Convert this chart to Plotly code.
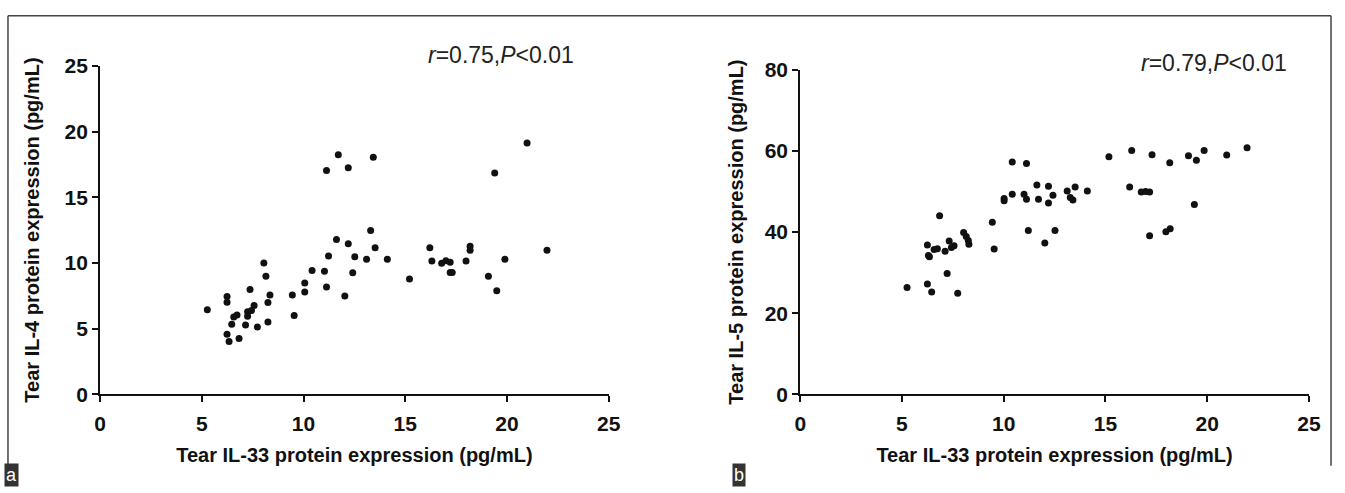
import plotly.graph_objects as go

# Panel a: IL-33 vs IL-4
il33_a = [5.27, 6.24, 6.24, 6.24, 6.34, 6.47, 6.57, 6.73, 6.83, 7.15, 7.25, 7.25, 7.37, 7.44,
          7.57, 7.73, 8.05, 8.15, 8.25, 8.25, 8.35, 9.45, 9.54, 10.06, 10.06, 10.42, 11.03, 11.13,
          11.23, 11.13, 11.71, 11.62, 12.03, 12.2, 12.2, 12.42, 12.52, 13.1, 13.3, 13.43, 13.52,
          14.12, 15.21, 16.21, 16.31, 16.79, 17.0, 17.21, 17.21, 17.31, 17.99, 18.19, 18.19,
          19.09, 19.40, 19.5, 19.9, 20.99, 21.97]
il4_a = [6.43, 7.44, 7.01, 4.57, 4.01, 5.34, 5.89, 6.04, 4.25, 5.27, 5.94, 6.28, 7.97, 6.38,
         6.76, 5.12, 10.0, 8.99, 5.51, 6.98, 7.56, 7.56, 5.99, 8.48, 7.78, 9.42, 9.37, 8.16,
         10.53, 17.03, 18.24, 11.79, 7.49, 17.25, 11.45, 9.25, 10.46, 10.27, 12.46, 18.04, 11.16,
         10.27, 8.77, 11.16, 10.14, 9.98, 10.17, 10.05, 9.28, 9.28, 10.14, 11.26, 10.97,
         8.99, 16.84, 7.88, 10.27, 19.13, 10.97]

# Panel b: IL-33 vs IL-5
il33_b = [5.25, 6.25, 6.46, 7.74, 7.22, 6.85, 6.25, 6.3, 6.35, 6.58, 6.74, 7.12, 7.32, 7.43,
          7.56, 8.03, 8.16, 8.26, 8.29, 9.44, 9.53, 10.02, 10.02, 10.42, 10.42, 11.12, 11.0,
          11.12, 11.21, 11.63, 11.71, 12.02, 12.2, 12.2, 12.42, 12.52, 13.12, 13.51, 13.27,
          13.4, 14.11, 16.19, 16.76, 16.97, 17.17, 19.37, 17.17, 17.97, 18.18, 15.17, 16.29,
          17.29, 18.16, 19.08, 19.47, 19.85, 20.96, 21.96]
il5_b = [26.35, 27.2, 25.2, 24.9, 29.8, 44.0, 36.8, 34.2, 33.9, 35.7, 35.9, 35.3, 37.8, 36.2,
         36.6, 39.9, 38.9, 37.9, 37.0, 42.4, 35.8, 48.3, 47.7, 49.3, 57.3, 56.9, 49.3,
         48.1, 40.4, 51.6, 48.1, 37.3, 51.3, 47.2, 49.1, 40.4, 50.1, 51.1, 48.5,
         47.9, 50.1, 51.1, 49.9, 50.0, 49.9, 46.8, 39.1, 40.1, 40.8, 58.6, 60.1,
         59.1, 57.1, 58.8, 57.7, 60.1, 59.0, 60.8]

x_ticks = [0, 5, 10, 15, 20, 25]
y_ticks_a = [0, 5, 10, 15, 20, 25]
y_ticks_b = [0, 20, 40, 60, 80]

x_title = "Tear IL-33 protein expression (pg/mL)"
y_title_a = "Tear IL-4 protein expression (pg/mL)"
y_title_b = "Tear IL-5 protein expression (pg/mL)"
stat_a = "<i>r</i>=0.75,<i>P</i>&lt;0.01"
stat_b = "<i>r</i>=0.79,<i>P</i>&lt;0.01"

W, H = 1345, 493
FONT = "Liberation Sans, Arial, sans-serif"

fig = go.Figure()
mk = dict(color="#111111", size=7)
fig.add_trace(go.Scatter(x=il33_a, y=il4_a, mode="markers", marker=mk, xaxis="x", yaxis="y",
                         showlegend=False, cliponaxis=False))
fig.add_trace(go.Scatter(x=il33_b, y=il5_b, mode="markers", marker=mk, xaxis="x2", yaxis="y2",
                         showlegend=False, cliponaxis=False))

def px_x(p):
    return p / W

def px_y(p):
    return 1 - p / H

tickfont = dict(family=FONT, size=21, color="#111111", weight="bold")
titlefont = dict(family=FONT, size=20, color="#111111", weight="bold")

def axis_common():
    return dict(showline=True, linecolor="#111111", linewidth=2, ticks="outside", ticklen=6,
                tickwidth=2, tickcolor="#111111", showgrid=False, zeroline=False,
                tickfont=tickfont, fixedrange=True)

fig.update_layout(
    width=W, height=H, margin=dict(l=0, r=0, t=0, b=0),
    paper_bgcolor="white", plot_bgcolor="white",
    xaxis=dict(domain=[px_x(95.4), px_x(610.8)], range=[0, 25], tickvals=x_ticks,
               anchor="y", ticklabelstandoff=4,
               title=dict(text=x_title, font=titlefont, standoff=14), **axis_common()),
    yaxis=dict(domain=[px_y(401), px_y(56.5)], range=[0, 25], tickvals=y_ticks_a,
               anchor="x", title=dict(text=y_title_a, font=titlefont, standoff=20), **axis_common()),
    xaxis2=dict(domain=[px_x(805), px_x(1320.6)], range=[0, 25], tickvals=x_ticks,
                anchor="y2", ticklabelstandoff=4,
                title=dict(text=x_title, font=titlefont, standoff=14), **axis_common()),
    yaxis2=dict(domain=[px_y(401), px_y(60.7)], range=[0, 80], tickvals=y_ticks_b,
                anchor="x2", title=dict(text=y_title_b, font=titlefont, standoff=16), **axis_common()),
)

# statistics annotations
fig.add_annotation(text=stat_a, x=px_x(502), y=px_y(45), xref="paper", yref="paper",
                   xanchor="center", yanchor="middle", showarrow=False,
                   font=dict(family=FONT, size=23, color="#222222"))
fig.add_annotation(text=stat_b, x=px_x(1224), y=px_y(53), xref="paper", yref="paper",
                   xanchor="center", yanchor="middle", showarrow=False,
                   font=dict(family=FONT, size=23, color="#222222"))

# panel labels
for lab, xc in [("a", 6), ("b", 743)]:
    fig.add_annotation(text=lab, x=px_x(xc), y=px_y(486), xref="paper", yref="paper",
                       xanchor="center", yanchor="middle", showarrow=False,
                       bgcolor="#333333", borderpad=1,
                       font=dict(family=FONT, size=18, color="white"))

# frame
fig.add_shape(type="line", xref="paper", yref="paper", x0=px_x(2), x1=px_x(1343),
              y0=px_y(4), y1=px_y(4), line=dict(color="#444444", width=1.5))
fig.add_shape(type="line", xref="paper", yref="paper", x0=px_x(2), x1=px_x(2),
              y0=px_y(4), y1=px_y(476), line=dict(color="#444444", width=1.5))
fig.add_shape(type="line", xref="paper", yref="paper", x0=px_x(1343), x1=px_x(1343),
              y0=px_y(4), y1=px_y(476), line=dict(color="#444444", width=1.5))

fig.write_html("out.html", config={"displayModeBar": False},
               post_script="document.body.style.margin='0';document.body.style.padding='0';"
                           "document.body.style.overflow='hidden';")
